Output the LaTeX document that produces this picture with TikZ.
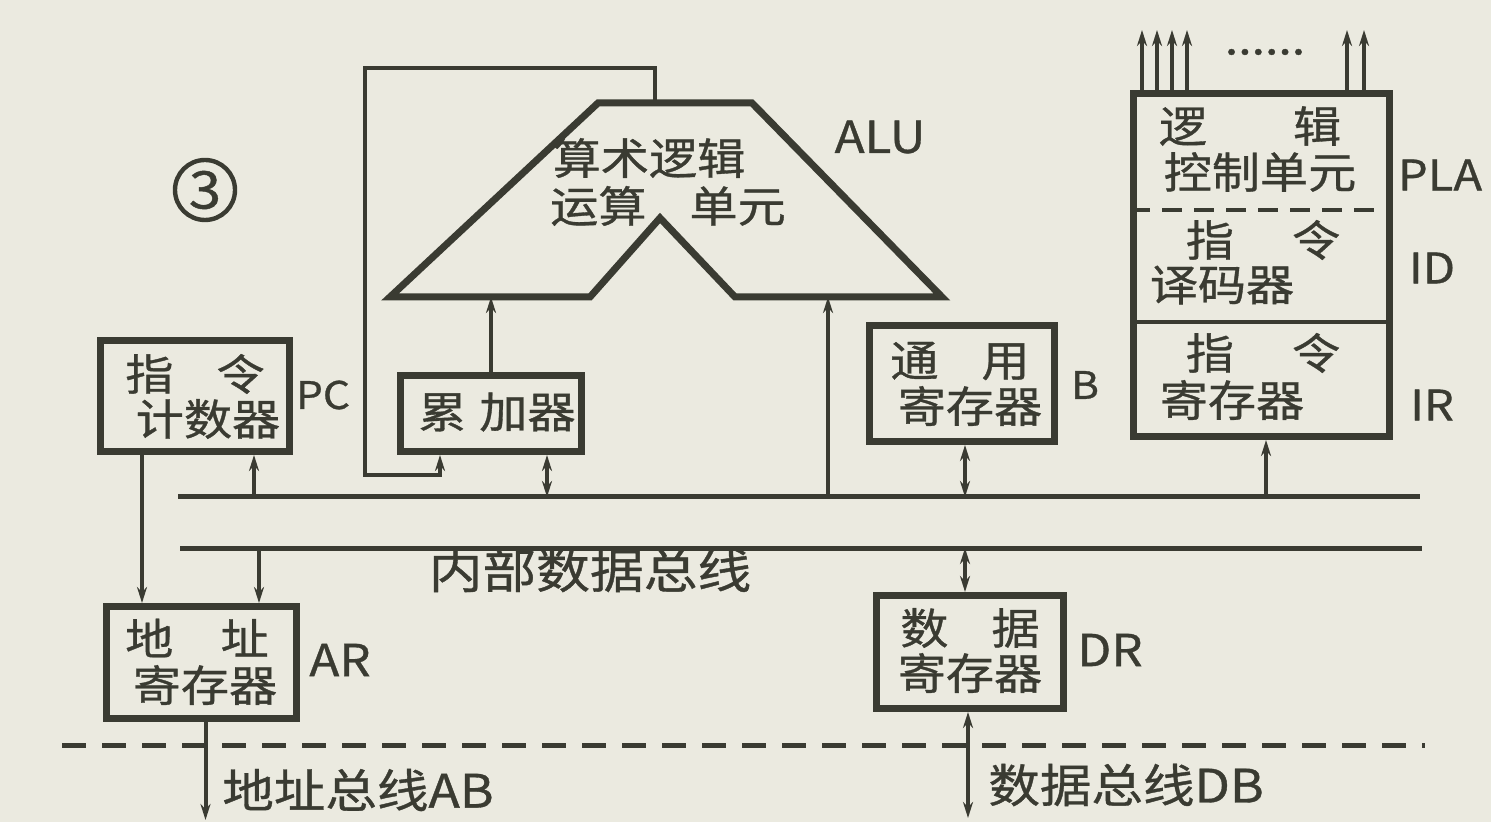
\documentclass[tikz,border=0pt]{standalone}
\usepackage{fontspec}
\setmainfont{Noto Sans CJK SC}[FakeStretch=1.12,FakeBold=0.8]
\usetikzlibrary{arrows.meta,calc}
\definecolor{ink}{HTML}{3A3B32}
\definecolor{paper}{HTML}{EBEAE0}
\begin{document}
\begin{tikzpicture}[x=0.5pt,y=-0.5pt,
  >={Stealth[length=8pt,width=5pt]},
  reg/.style={draw=ink,line width=3.5pt,inner sep=0pt},
  txt/.style={text=ink,inner sep=0pt,font=\fontsize{21.5}{26}\selectfont},
  lbl/.style={text=ink,inner sep=0pt,font=\fontsize{21}{26}\selectfont},
  conn/.style={draw=ink,line width=2pt},
  wire/.style={draw=ink,line width=1.6pt},
  busline/.style={draw=ink,line width=2.5pt},
  sysbus/.style={draw=ink,line width=2.5pt,dash pattern=on 12pt off 8pt},
  aluline/.style={draw=ink,line width=3.5pt,line join=miter}
]
\fill[paper] (0,0) rectangle (1491,822);
\useasboundingbox (0,0) rectangle (1491,822);

% circled number
\node[draw=ink,line width=2.2pt,circle,minimum size=30pt,inner sep=0pt,
      text=ink,font=\fontsize{26}{30}\selectfont] (num) at (205,190) {3};

% registers
\node[reg,minimum width=94.5pt,minimum height=55.5pt] (pc) at (195,396) {};
\node[reg,minimum width=95pt,minimum height=56pt] (ar) at (201.5,662.5) {};
\node[reg,minimum width=90.5pt,minimum height=38pt] (acc) at (491,413.5) {};
\node[reg,minimum width=92.5pt,minimum height=58pt] (b) at (962,383.5) {};
\node[reg,minimum width=93.5pt,minimum height=56.5pt] (dr) at (970,652) {};
\node[reg,minimum width=128pt,minimum height=171.5pt] (ctrl) at (1261.5,265) {};

% control unit inner separators
\coordinate (sepA) at (0,210);
\coordinate (sepB) at (0,322);
\draw[ink,line width=1.6pt,dash pattern=on 10pt off 6pt] (ctrl.west |- sepA) -- (ctrl.east |- sepA);
\draw[ink,line width=1.6pt] (ctrl.west |- sepB) -- (ctrl.east |- sepB);

% ALU
\draw[aluline] (390,297) -- (598,103) -- (752,103) -- (942,297) -- (735,297)
   -- (660,218) -- (590,297) -- cycle;
\coordinate (aluTop) at (655,103);
\coordinate (aluIn1) at (493,297);
\coordinate (aluIn2) at (828,297);

% texts
\node[txt] (pct1) at (195,374) {指\hspace{1em}令};
\node[txt] (pct2) at (208,419) {计数器};
\node[txt] (art1) at (197,638) {地\hspace{1.1em}址};
\node[txt] (art2) at (205,685) {寄存器};
\node[txt] (acct) at (497,412) {累\hspace{0.3em}加器};
\node[txt] (alut1) at (649,158) {算术逻辑};
\node[txt] (alut2) at (668,206) {运算\hspace{1em}单元};
\node[txt] (bt1) at (960,361) {通\hspace{1em}用};
\node[txt] (bt2) at (970,406) {寄存器};
\node[txt] (drt1) at (970,628) {数\hspace{1em}据};
\node[txt] (drt2) at (970,673) {寄存器};
\node[txt] (plat1) at (1250,126) {逻\hspace{2em}辑};
\node[txt] (plat2) at (1260,172) {控制单元};
\node[txt] (idt1) at (1263,240) {指\hspace{1.35em}令};
\node[txt] (idt2) at (1222,285) {译码器};
\node[txt] (irt1) at (1263,353) {指\hspace{1.35em}令};
\node[txt] (irt2) at (1232,400) {寄存器};

% labels
\node[lbl,font=\fontsize{22}{26}\selectfont] (lalu) at (880,137) {ALU};
\node[lbl,font=\fontsize{19}{24}\selectfont] (lpc) at (323,395) {PC};
\node[lbl,font=\fontsize{19}{24}\selectfont] (lb) at (1085,385) {B};
\node[lbl] (lpla) at (1440,175) {PLA};
\node[lbl] (lid) at (1432,268) {ID};
\node[lbl] (lir) at (1432,405) {IR};
\node[lbl,font=\fontsize{22}{26}\selectfont] (lar) at (340,660) {AR};
\node[lbl,font=\fontsize{22}{26}\selectfont] (ldr) at (1110,650) {DR};

% internal data bus
\coordinate (ba1) at (178,497);
\coordinate (ba2) at (1420,497);
\coordinate (bb1) at (180,548);
\coordinate (bb2) at (1422,548);
\draw[busline] (ba1) -- (ba2);
\draw[busline] (bb1) -- (bb2);
\node[txt,font=\fontsize{24}{28}\selectfont] (ibus) at (590,570) {内部数据总线};

% system buses
\coordinate (sb1) at (62,745);
\coordinate (sb2) at (1425,745);
\draw[sysbus] (sb1) -- (sb2);
\node[txt,font=\fontsize{23}{28}\selectfont,anchor=west] (abl) at (222,790) {地址总线AB};
\node[txt,font=\fontsize{23}{28}\selectfont,anchor=west] (dbl) at (988,785) {数据总线DB};

% connectors
\coordinate (pcL) at ($(pc.south west)+(45,0)$);
\coordinate (pcR) at ($(pc.south west)+(157,0)$);
\coordinate (arR) at ($(ar.north west)+(156,0)$);
\coordinate (arB) at ($(ar.south)+(4,0)$);
\coordinate (abEnd) at (205,820);
\coordinate (accL) at ($(acc.south west)+(43,0)$);
\coordinate (accR) at ($(acc.south west)+(150,0)$);
\coordinate (bS) at ($(b.south)+(3,0)$);
\coordinate (drN) at ($(dr.north)+(-5,0)$);
\coordinate (drS) at ($(dr.south)+(-2,0)$);
\coordinate (dbEnd) at (968,818);
\coordinate (irS) at ($(ctrl.south)+(4.5,0)$);

\draw[conn,->] (pcL) -- (pcL |- ar.north);
\draw[conn,<-] (pcR) -- (pcR |- ba1);
\draw[conn,->] (arR |- bb1) -- (arR);
\draw[conn,->] (arB) -- (arB |- abEnd);
\draw[wire,->] (aluTop) -- ++(0,-35) -| (365,475) -| (accL);
\draw[conn,->] (acc.north) -- (acc.north |- aluIn1);
\draw[conn,<->] (accR) -- (accR |- ba1);
\draw[conn,->] (aluIn2 |- ba1) -- (aluIn2);
\draw[conn,<->] (bS) -- (bS |- ba1);
\draw[conn,<->] (drN |- bb1) -- (drN);
\draw[conn,<->] (drS) -- (drS |- dbEnd);
\draw[conn,->] (irS |- ba1) -- (irS);

% control outputs
\foreach \dx in {12,27,42,57,217,234}
  \draw[ink,line width=1.6pt,->] ($(ctrl.north west)+(\dx,0)$) -- ++(0,-60);
\node[txt] (dots) at (1265,52) {......};
\end{tikzpicture}
\end{document}
